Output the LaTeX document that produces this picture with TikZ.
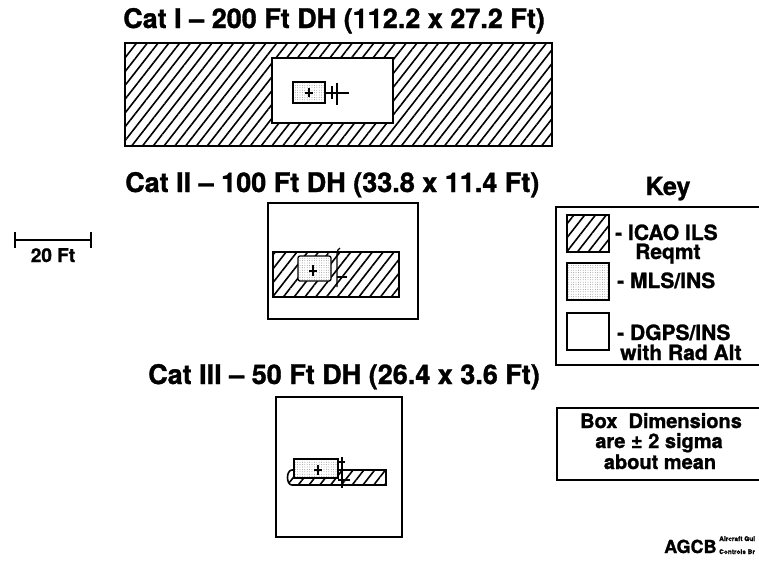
\documentclass[tikz,border=0pt]{standalone}
\usepackage{fontspec}
\setmainfont{TeX Gyre Heros}[BoldFeatures={FakeBold=1.2}]
\usetikzlibrary{patterns.meta}
\begin{document}
\begin{tikzpicture}[x=1pt,y=-1pt,
  box/.style={draw=black,line width=1.6pt},
  hatch/.style={box,preaction={fill=white},pattern={Lines[angle=52,distance=8.5pt,line width=1.6pt]}},
  stip/.style={box,line width=1.3pt,preaction={fill=white},pattern={Dots[distance=2.4pt,radius=0.4pt]},pattern color=black!55},
  thin/.style={draw=black,line width=1.2pt},
  title/.style={font=\bfseries\fontsize{27}{27}\selectfont,anchor=base west,inner sep=0pt},
  keytxt/.style={font=\bfseries\fontsize{21}{21}\selectfont,anchor=base west,inner sep=0pt},
  boxtxt/.style={font=\bfseries\fontsize{20}{20}\selectfont,anchor=base,inner sep=0pt},
  tiny/.style={font=\bfseries\fontsize{6.5}{6.5}\selectfont,anchor=base west,inner sep=0pt}
]
\useasboundingbox (0,0) rectangle (759,563);

% titles
\node[title] (t1) at (123,28) {Cat I – 200 Ft DH (112.2 x 27.2 Ft)};
\node[title] (t2) at (125,192) {Cat II – 100 Ft DH (33.8 x 11.4 Ft)};
\node[title] (t3) at (148,384) {Cat III – 50 Ft DH (26.4 x 3.6 Ft)};

% Cat I
\draw[hatch] (125,43) rectangle (552,146);
\draw[box,fill=white] (272,58) rectangle (393,123);
\draw[stip] (293,82) rectangle (325,103);
\draw[line width=1.6pt] (305,93) -- (313,93) (309,88) -- (309,97);
\draw[thin] (325,93) -- (349,93) (332,86) -- (332,99) (337,83) -- (337,105);

% Cat II
\draw[box,fill=white] (268,203) rectangle (418,319);
\draw[hatch] (273,252) rectangle (399,297);
\draw[stip,rounded corners=2pt] (298,256) rectangle (331,281);
\draw[line width=1.6pt] (309,271) -- (317,271) (313,265) -- (313,276);
\draw[thin] (337,287) -- (337,254) .. controls (337,251) and (338,249) .. (340,248);
\draw[thin] (337,277) -- (347,277);

% Cat III
\draw[box,fill=white] (276,397) rectangle (402,537);
\draw[hatch] (292,470) -- (386,470) -- (386,485) -- (292,485) .. controls (286,485) and (286,470) .. (292,470) -- cycle;
\draw[stip] (294,459) rectangle (338,478);
\draw[line width=1.6pt] (314,470) -- (322,470) (318,465) -- (318,475);
\draw[thin] (342,457) -- (342,488) (339,462) -- (345,462) (338,480) -- (350,480);

% scale bar
\draw[line width=1.3pt] (15,240) -- (91,240) (15,232) -- (15,248) (91,232) -- (91,248);
\node[font=\bfseries\fontsize{19}{19}\selectfont,anchor=base,inner sep=0pt] (sc) at (53,262) {20 Ft};

% key
\node[font=\bfseries\fontsize{25}{25}\selectfont,anchor=base,inner sep=0pt] (key) at (668,195) {Key};
\draw[box] (759,207) -- (556,207) -- (556,365) -- (759,365);
\draw[hatch] (567,215) rectangle (609,252);
\draw[stip] (567,263) rectangle (609,300);
\draw[box] (567,313) rectangle (609,350);
\node[keytxt] (k1) at (615,240) {- ICAO ILS};
\node[keytxt] (k1b) at (635,259) {Reqmt};
\node[keytxt] (k2) at (617,288) {- MLS/INS};
\node[keytxt] (k3) at (617,340) {- DGPS/INS};
\node[keytxt] (k3b) at (620,360) {with Rad Alt};

% box dimensions
\draw[box] (759,408) -- (557,408) -- (557,480) -- (759,480);
\node[boxtxt] (b1) at (661,428) {Box\ \ Dimensions};
\node[boxtxt] (b2) at (659,448) {are ± 2 sigma};
\node[boxtxt] (b3) at (660,469) {about mean};

% logo
\node[font=\bfseries\fontsize{18}{18}\selectfont,anchor=base west,inner sep=0pt] (agcb) at (664,553) {AGCB};
\node[tiny] (ag1) at (719,541) {Aircraft Gui};
\node[tiny] (ag2) at (719,554) {Controls Br};
\end{tikzpicture}
\end{document}
